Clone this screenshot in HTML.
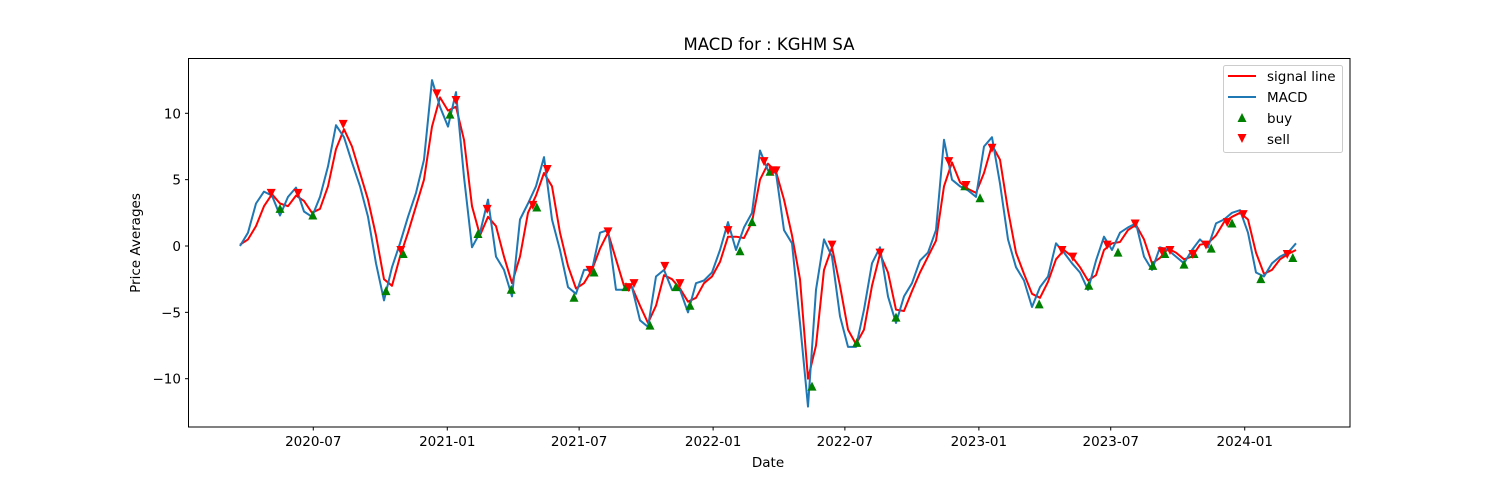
<!DOCTYPE html>
<html><head><meta charset="utf-8"><style>
body{margin:0;background:#fff;}
svg text{font-family:"DejaVu Sans","Liberation Sans",sans-serif;fill:#000;}
</style></head><body>
<svg id="chart" width="1500" height="480" xmlns="http://www.w3.org/2000/svg">
<rect width="1500" height="480" fill="#fff"/>
<text x="769" y="50" font-size="16.5" text-anchor="middle">MACD for : KGHM SA</text>
<text x="768" y="467" font-size="13.5" text-anchor="middle">Date</text>
<text transform="translate(140,243) rotate(-90)" font-size="13.5" text-anchor="middle">Price Averages</text>
<g id="ticks"></g>
<g id="plot"></g>
<rect x="188.5" y="58.5" width="1161.5" height="368.5" fill="none" stroke="#000" stroke-width="1"/>
<g>
<rect x="1223.5" y="65.5" width="119" height="87" rx="2" fill="#fff" fill-opacity="0.8" stroke="#ccc"/>
<line x1="1228" y1="76" x2="1256" y2="76" stroke="red" stroke-width="2"/>
<text x="1267" y="81" font-size="13.5">signal line</text>
<line x1="1228" y1="97" x2="1256" y2="97" stroke="#1f77b4" stroke-width="2"/>
<text x="1267" y="102" font-size="13.5">MACD</text>
<polygon points="1242,113 1246.5,122 1237.5,122" fill="green"/>
<text x="1267" y="123" font-size="13.5">buy</text>
<polygon points="1237.5,134 1246.5,134 1242,143" fill="red"/>
<text x="1267" y="144" font-size="13.5">sell</text>
</g>
</svg>
<script>
const macd=[0,1.0,3.2,4.1,3.8,2.3,3.7,4.4,2.6,2.2,3.7,6.0,9.1,8.2,6.3,4.5,2.2,-1.3,-4.1,-1.6,0.2,2.2,4.0,6.5,12.5,10.5,9.0,11.6,5.2,-0.1,1.0,3.5,-0.8,-1.8,-3.8,2.0,3.2,4.5,6.7,2.0,-0.3,-3.1,-3.6,-1.8,-1.8,1.0,1.2,-3.3,-3.3,-3.1,-5.6,-6.1,-2.3,-1.8,-3.3,-3.3,-5.0,-2.8,-2.6,-2.0,-0.3,1.8,-0.3,1.4,2.5,7.2,5.7,5.5,1.2,0.2,-5.8,-12.1,-3.3,0.5,-0.8,-5.3,-7.6,-7.6,-4.8,-1.3,-0.1,-3.8,-5.8,-3.8,-2.8,-1.1,-0.5,1.2,8.0,5.0,4.5,4.2,3.7,7.5,8.2,4.7,0.5,-1.6,-2.6,-4.6,-3.1,-2.3,0.2,-0.5,-1.3,-2.0,-3.3,-1.1,0.7,-0.3,1.0,1.4,1.7,-0.8,-1.8,-0.1,-0.3,-0.8,-1.3,-0.3,0.5,-0.1,1.7,2.0,2.5,2.7,1.0,-2.0,-2.3,-1.3,-0.8,-0.5,0.2];
const signal=[0.1,0.5,1.5,3.0,3.9,3.2,3.0,3.8,3.4,2.5,2.8,4.5,7.3,8.8,7.5,5.5,3.5,0.8,-2.5,-3.0,-0.8,1.0,3.0,5.0,9.0,11.2,10.2,10.5,8.0,3.0,0.8,2.2,1.5,-0.8,-2.8,-0.8,2.5,3.8,5.5,4.5,1.0,-1.5,-3.2,-2.8,-1.8,-0.2,1.0,-1.0,-3.0,-3.1,-4.5,-5.8,-4.5,-2.2,-2.5,-3.2,-4.2,-3.9,-2.8,-2.3,-1.2,0.7,0.7,0.6,1.8,5.0,6.2,5.6,3.5,0.8,-2.5,-10.0,-7.5,-1.8,-0.1,-3.0,-6.3,-7.4,-6.3,-3.0,-0.6,-2.0,-4.8,-4.9,-3.4,-2.0,-0.8,0.4,4.5,6.3,4.8,4.3,4.0,5.5,7.6,6.5,2.7,-0.5,-2.1,-3.6,-3.9,-2.7,-1.0,-0.3,-0.8,-1.6,-2.6,-2.2,-0.3,0.2,0.3,1.2,1.6,0.5,-1.3,-0.9,-0.2,-0.5,-1.0,-0.8,0.1,0.2,0.8,1.8,2.2,2.5,2.0,-0.5,-2.1,-1.8,-1.0,-0.6,-0.3];
const sellIdx=[3.9,7.25,12.9,20.1,24.6,27,30.9,36.6,38.4,43.75,46,48.6,49.25,53.1,55,61,65.5,66.6,67,74,80,88.6,90.75,94,102.75,104.1,108.4,111.9,115.25,116.25,119.1,120.75,123.4,125.4,130.9];
const sellVal=[4.0,4.0,9.2,-0.3,11.5,11.0,2.8,3.1,5.8,-1.8,1.1,-3.1,-2.8,-1.5,-2.8,1.2,6.4,5.7,5.7,0.1,-0.5,6.4,4.6,7.4,-0.3,-0.8,0.1,1.7,-0.4,-0.3,-0.6,0.1,1.8,2.4,-0.6];
const buyIdx=[5,9.1,18.25,20.4,26.25,29.75,33.9,37.1,41.75,44.25,48.25,51.25,54.5,56.25,62.5,64,66.25,71.5,77.1,82,90.6,92.5,99.9,106.1,109.75,114.1,115.6,118,119.25,121.4,124,127.6,131.6];
const buyVal=[2.8,2.3,-3.4,-0.6,9.9,0.9,-3.3,2.9,-3.9,-2.0,-3.1,-6.0,-3.1,-4.5,-0.4,1.8,5.6,-10.6,-7.3,-5.4,4.5,3.6,-4.4,-3.0,-0.5,-1.5,-0.6,-1.4,-0.6,-0.2,1.7,-2.5,-0.9];
const xTickPos=[9.16,25.91,42.39,59.14,75.61,92.36,108.84,125.59];
const xTickLabels=["2020-07","2021-01","2021-07","2022-01","2022-07","2023-01","2023-07","2024-01"];
const yTicks=[10,5,0,-5,-10];

const NS="http://www.w3.org/2000/svg";
function X(i){return 240+8*i;}
function Y(v){return 246-13.27*v;}
function mk(tag,attrs,parent){const e=document.createElementNS(NS,tag);for(const k in attrs)e.setAttribute(k,attrs[k]);parent.appendChild(e);return e;}
const plot=document.getElementById('plot'), ticks=document.getElementById('ticks');
xTickPos.forEach((p,i)=>{
  const t=mk('line',{x1:X(p),x2:X(p),y1:427,y2:430.5,stroke:'#000'},ticks);
  
  
  const l=mk('text',{x:X(p),y:446,'font-size':'13.5','text-anchor':'middle'},ticks);
  l.textContent=xTickLabels[i];
  
  
});
yTicks.forEach(v=>{
  const t=mk('line',{x1:185,x2:188.5,y1:Y(v),y2:Y(v),stroke:'#000'},ticks);
  
  
  const l=mk('text',{x:181,y:Y(v)+5,'font-size':'13.5','text-anchor':'end'},ticks);
  l.textContent=(v<0?'\u2212'+(-v):String(v));
  
  
});
function path(arr){return arr.map((v,i)=>(i?'L':'M')+X(i).toFixed(1)+','+Y(v).toFixed(1)).join('');}
const sl=mk('path',{d:path(signal),fill:'none',stroke:'red','stroke-width':'2','stroke-linejoin':'round'},plot);


const ml=mk('path',{d:path(macd),fill:'none',stroke:'#1f77b4','stroke-width':'2','stroke-linejoin':'round'},plot);


buyIdx.forEach((p,i)=>{
  const x=X(p),y=Y(buyVal[i]);
  const m=mk('polygon',{points:`${x},${y-5} ${x+4.5},${y+4} ${x-4.5},${y+4}`,fill:'green'},plot);
  
  
});
sellIdx.forEach((p,i)=>{
  const x=X(p),y=Y(sellVal[i]);
  const m=mk('polygon',{points:`${x-4.5},${y-4} ${x+4.5},${y-4} ${x},${y+5}`,fill:'red'},plot);
  
  
});
</script>
</body></html>
